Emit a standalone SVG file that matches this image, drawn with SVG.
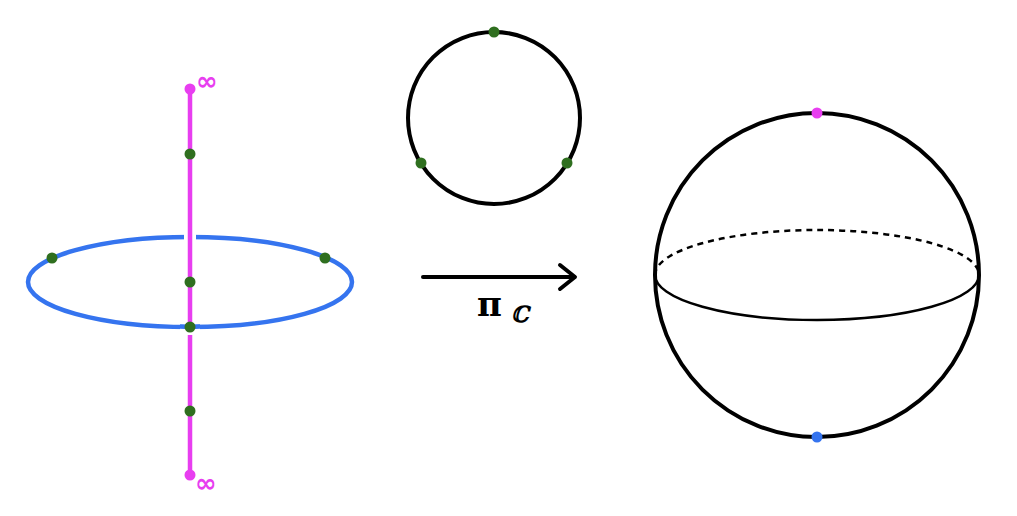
<svg xmlns="http://www.w3.org/2000/svg" width="1017" height="516" viewBox="0 0 1017 516">
<style>
.pink{stroke:#e83ef0;fill:none;stroke-width:4.5}
.blue{stroke:#3574ef;fill:none;stroke-width:4.5}
.blk{stroke:#000;fill:none;stroke-width:4}
.thin{stroke:#000;fill:none;stroke-width:2.5}
.g{fill:#2f6f1f}
.p{fill:#e83ef0}
.b{fill:#3574ef}
.inf{font-family:"DejaVu Sans",sans-serif;font-size:26px;font-weight:bold;fill:#e83ef0}
.lab{font-family:"DejaVu Serif",serif;font-weight:bold;fill:#000}
</style>
<defs><clipPath id="topclip"><rect x="0" y="225" width="400" height="25"/></clipPath></defs>
<rect width="1017" height="516" fill="#fff"/>
<g id="line-plane">
  <ellipse class="blue" cx="190" cy="282" rx="162" ry="45"/>
  <line x1="190" y1="89" x2="190" y2="475" stroke="#fff" stroke-width="12" clip-path="url(#topclip)"/>
  <line class="pink" x1="190" y1="89" x2="190" y2="475"/>
  <rect x="180" y="328" width="20" height="7" fill="#fff"/>
  <path class="blue" d="M 180 326.6 Q 190 327 200 326.6"/>
  <circle class="p" cx="190" cy="89" r="5.5"/>
  <circle class="p" cx="190" cy="475" r="5.5"/>
  <circle class="g" cx="190" cy="154" r="5.5"/>
  <circle class="g" cx="190" cy="282" r="5.5"/>
  <circle class="g" cx="190" cy="327" r="5.5"/>
  <circle class="g" cx="190" cy="411" r="5.5"/>
  <circle class="g" cx="52" cy="258" r="5.5"/>
  <circle class="g" cx="325" cy="258" r="5.5"/>
  <text class="inf" x="196" y="90">∞</text>
  <text class="inf" x="195" y="492">∞</text>
</g>
<g id="circle">
  <circle class="blk" cx="494" cy="118" r="86"/>
  <circle class="g" cx="494" cy="32" r="5.5"/>
  <circle class="g" cx="421" cy="163" r="5.5"/>
  <circle class="g" cx="567" cy="163" r="5.5"/>
</g>
<g id="connectors">
  <line x1="423" y1="277" x2="574" y2="277" stroke="#000" stroke-width="4" stroke-linecap="round"/>
  <polyline points="560,265 575,277 560,289" fill="none" stroke="#000" stroke-width="4" stroke-linecap="round" stroke-linejoin="round"/>
  <text class="lab" x="477" y="316" font-size="34">π</text>
  <text class="lab" x="511" y="322" font-size="22" font-family="DejaVu Sans, sans-serif" font-style="italic">ℂ</text>
</g>
<g id="sphere">
  <circle class="blk" cx="817" cy="275" r="162"/>
  <path class="thin" d="M 655 275 A 162 45 0 0 0 979 275"/>
  <path class="thin" d="M 655 275 A 162 45 0 0 1 979 275" stroke-dasharray="6 5"/>
  <circle class="p" cx="817" cy="113" r="5.5"/>
  <circle class="b" cx="817" cy="437" r="5.5"/>
</g>
</svg>
